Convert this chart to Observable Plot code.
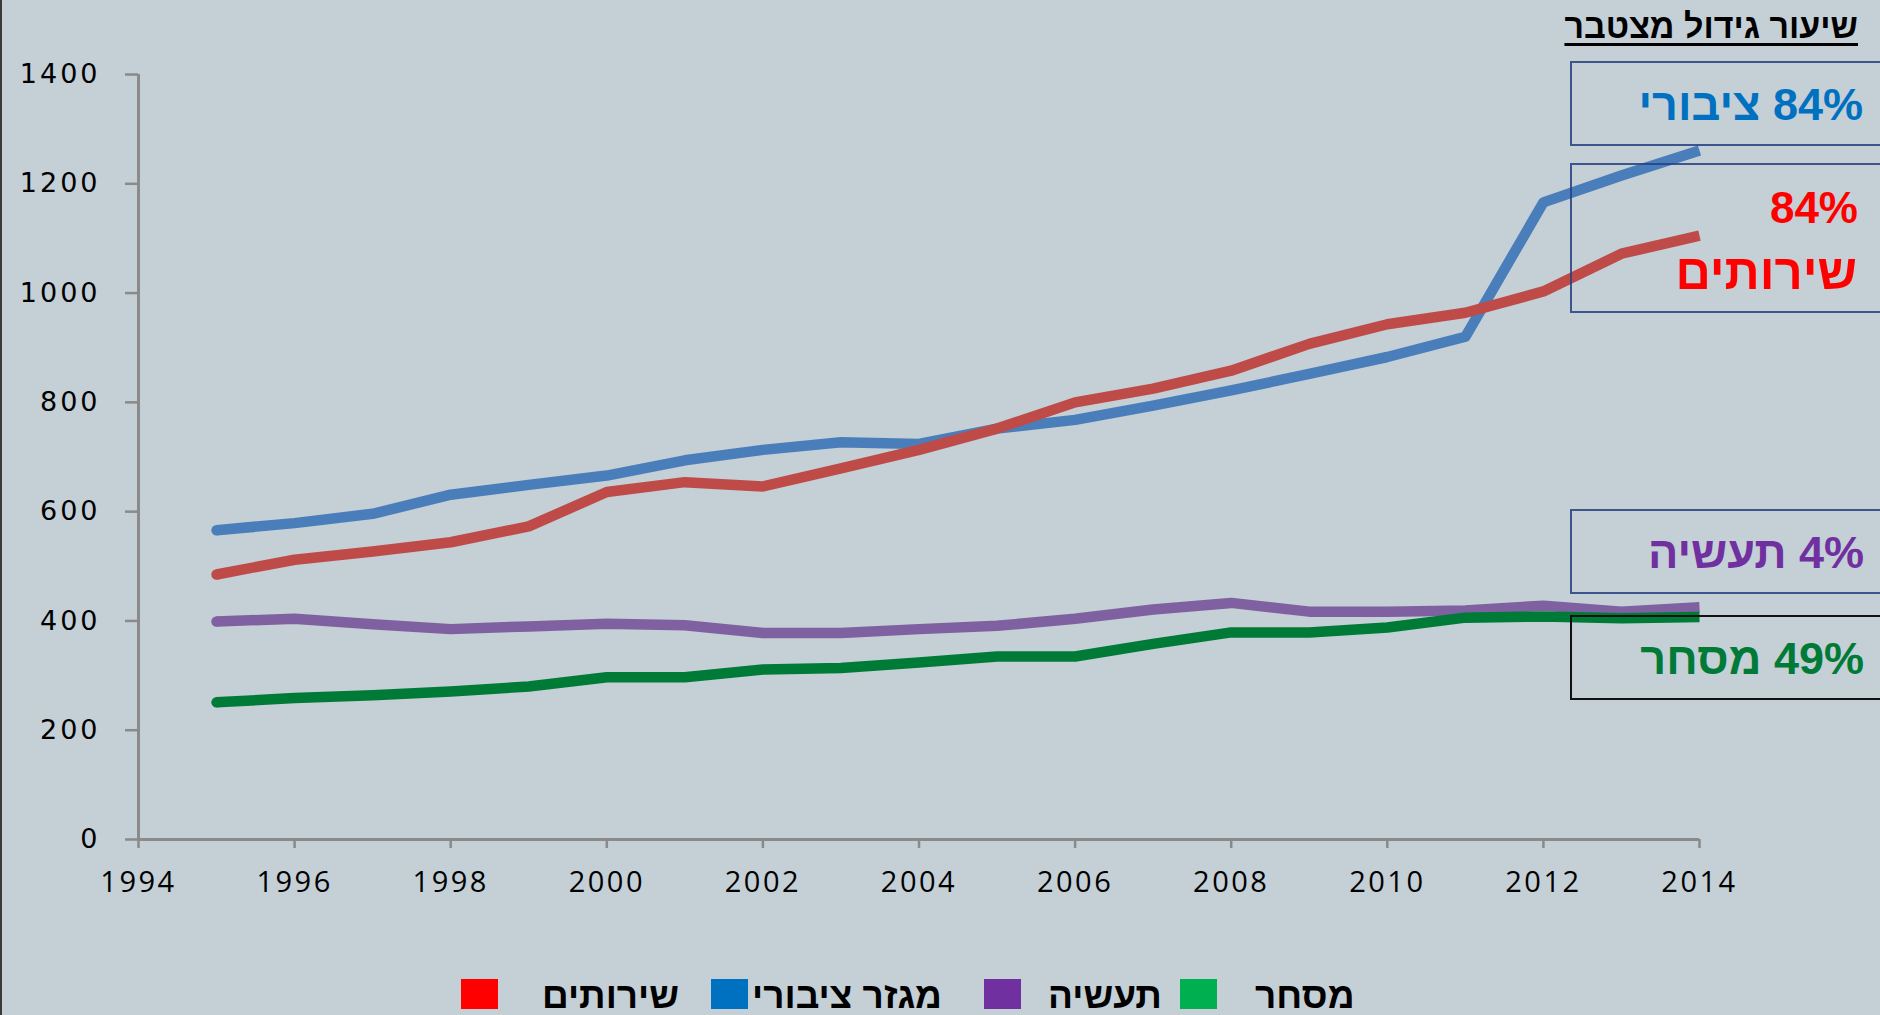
<!DOCTYPE html>
<html>
<head>
<meta charset="utf-8">
<script src="https://cdn.jsdelivr.net/npm/d3@7"></script>
<script src="https://cdn.jsdelivr.net/npm/@observablehq/plot@0.6"></script>
<style>
  html, body { margin: 0; padding: 0; background: #C4CFD6; }
  #wrap { position: relative; width: 1880px; height: 1015px; overflow: hidden; background: #C4CFD6; }
  #chart { position: absolute; left: 0; top: 0; }
  #leftBorder { position: absolute; left: 0; top: 0; width: 2px; height: 1015px; background: #3a3a3a; }
  .heb { position: absolute; font-family: "Liberation Sans", "DejaVu Sans", sans-serif; font-weight: bold; line-height: 1; white-space: nowrap; direction: rtl; }
  .box { position: absolute; box-sizing: border-box; }
  .sq { position: absolute; width: 37px; height: 30px; }
  #chart g[aria-label="y-axis tick label"] text { letter-spacing: 3px; }
  #chart g[aria-label="x-axis tick label"] text { letter-spacing: 2.5px; }
</style>
</head>
<body>
<div id="wrap">
  <div id="chart"></div>
  <div id="leftBorder"></div>
</div>
<script>
// ---- data ----
const years = [1995, 1996, 1997, 1998, 1999, 2000, 2001, 2002, 2003, 2004, 2005, 2006, 2007, 2008, 2009, 2010, 2011, 2012, 2013, 2014];
const publicSector = [566, 579, 596, 631, 649, 666, 694, 713, 727, 724, 752, 768, 794, 822, 852, 883, 920, 1166, 1215, 1261];
const services     = [485, 512, 527, 544, 573, 636, 654, 646, 679, 713, 752, 800, 825, 858, 907, 943, 964, 1003, 1072, 1105];
const industry     = [399, 404, 394, 385, 390, 395, 392, 378, 378, 385, 391, 404, 421, 433, 417, 417, 419, 428, 417, 425];
const commerce     = [251, 259, 264, 271, 280, 297, 297, 311, 314, 324, 335, 335, 358, 379, 379, 388, 406, 408, 405, 407];

const seriesNames = ["מגזר ציבורי", "שירותים", "תעשיה", "מסחר"];
const seriesValues = [publicSector, services, industry, commerce];
const xTicks = [1994, 1996, 1998, 2000, 2002, 2004, 2006, 2008, 2010, 2012, 2014];
const yTicks = [0, 200, 400, 600, 800, 1000, 1200, 1400];

const titleText = "שיעור גידול מצטבר";
const growthLabels = ["84% ציבורי", "84%", "שירותים", "4% תעשיה", "49% מסחר"];
const legendNames = ["שירותים", "מגזר ציבורי", "תעשיה", "מסחר"];

// ---- styles ----
const lineColors = ["#4A7EBB", "#BE4B48", "#7F60A0", "#007A37"];
const legendColors = ["#FF0000", "#0070C0", "#7030A0", "#00B050"];
const axisColor = "#8A8A8A";

const rows = seriesNames.flatMap((s, i) => years.map((yr, j) => ({ series: s, year: yr, value: seriesValues[i][j] })));

const chart = Plot.plot({
  width: 1880,
  height: 920,
  marginLeft: 138,
  marginRight: 181,
  marginTop: 74,
  marginBottom: 81,
  style: { background: "transparent", overflow: "visible", color: "black" },
  x: { domain: [1994, 2014] },
  y: { domain: [0, 1400] },
  color: { domain: seriesNames, range: lineColors },
  marks: [
    Plot.axisY({ ticks: yTicks, tickSize: 13, tickPadding: 25, stroke: axisColor, strokeWidth: 2.5, fill: "black",
                 fontSize: 27, fontFamily: "DejaVu Sans", tickFormat: d => String(d), label: null }),
    Plot.axisX({ ticks: xTicks, tickSize: 9, tickPadding: 23, stroke: axisColor, strokeWidth: 2.5, fill: "black",
                 fontSize: 29, fontFamily: "Open Sans", tickFormat: d => String(d), label: null }),
    Plot.ruleX([1994], { stroke: axisColor, strokeWidth: 3 }),
    Plot.ruleY([0], { stroke: axisColor, strokeWidth: 3 }),
    Plot.lineY(rows, { x: "year", y: "value", z: "series", stroke: "series", strokeWidth: 10.5,
                       strokeLinejoin: "round", strokeLinecap: "butt" }),
    Plot.dot(rows.filter(d => d.year === years[0]), { x: "year", y: "value", fill: "series", r: 5.25, stroke: null })
  ]
});
document.getElementById("chart").appendChild(chart);

// ---- annotations (HTML overlay) ----
const wrap = document.getElementById("wrap");
function addText(txt, opts) {
  const el = document.createElement("div");
  el.className = "heb";
  el.textContent = txt;
  Object.assign(el.style, opts);
  wrap.appendChild(el);
  return el;
}
function addBox(opts) {
  const el = document.createElement("div");
  el.className = "box";
  Object.assign(el.style, opts);
  wrap.appendChild(el);
}

// title
addText(titleText, { right: "22px", top: "9px", fontSize: "34px", color: "#000", textDecoration: "underline", textDecorationThickness: "3px", textUnderlineOffset: "5px" });

// boxes
addBox({ left: "1570px", top: "61px", width: "330px", height: "85px", border: "2px solid rgba(38,64,130,0.85)" });
addBox({ left: "1570px", top: "163px", width: "330px", height: "150px", border: "2px solid rgba(38,64,130,0.85)" });
addBox({ left: "1570px", top: "509px", width: "330px", height: "85px", border: "2px solid rgba(38,64,130,0.85)" });
addBox({ left: "1570px", top: "615px", width: "330px", height: "85px", border: "2px solid #111" });

addText(growthLabels[0], { right: "17px", top: "82px", fontSize: "45px", color: "#0070C0" });
addText(growthLabels[1], { right: "22px", top: "186px", fontSize: "44px", color: "#FF0000" });
addText(growthLabels[2], { right: "23px", top: "248px", fontSize: "49px", color: "#FF0000" });
addText(growthLabels[3], { right: "16px", top: "530px", fontSize: "45px", color: "#7030A0" });
addText(growthLabels[4], { right: "16px", top: "636px", fontSize: "45px", color: "#007A37" });

// legend
const legendSquareLeft = [461, 711, 984, 1180];
const legendTextLeft = [542, 752, 1048, 1255];
legendNames.forEach((name, i) => {
  const sq = document.createElement("div");
  sq.className = "sq";
  sq.style.left = legendSquareLeft[i] + "px";
  sq.style.top = "979px";
  sq.style.background = legendColors[i];
  wrap.appendChild(sq);
  addText(name, { left: legendTextLeft[i] + "px", top: "977px", fontSize: "37px", color: "#000" });
});
</script>
</body>
</html>
